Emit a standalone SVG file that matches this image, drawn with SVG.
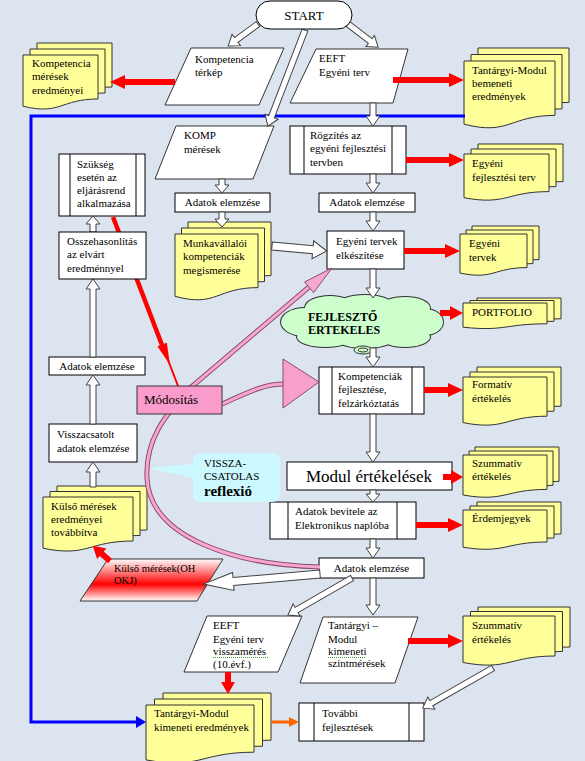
<svg xmlns="http://www.w3.org/2000/svg" xmlns:xlink="http://www.w3.org/1999/xlink" width="585" height="761" viewBox="0 0 585 761">
<style>
.t{font-family:"Liberation Serif","Times New Roman",serif;font-size:11px;fill:#000}
.box{fill:#fff;stroke:#000;stroke-width:1}
.doc{fill:#FFFF99;stroke:#333;stroke-width:1}
.para{fill:#fff;stroke:#333;stroke-width:1}
.ha{fill:#fff;stroke:#404040;stroke-width:1}
.ra{fill:#f00}
.pk-o{fill:none;stroke:#8C4A6E;stroke-width:5}
.pk-i{fill:none;stroke:#F7A8D0;stroke-width:3}
.sq{fill:none;stroke:#3a3;stroke-width:1;stroke-dasharray:1,1}
</style>
<defs>
<linearGradient id="gr" x1="0" y1="0" x2="0" y2="1">
<stop offset="0" stop-color="#fff"/>
<stop offset="0.6" stop-color="#f00"/>
<stop offset="1" stop-color="#fff"/>
</linearGradient>
<path id="d1" d="M0,0H75V44C37.5,44 37.5,60.5 0,51.2Z"/>
<path id="d2" d="M0,0H91V54.4C45.5,54.4 45.5,74.8 0,63.2Z"/>
<path id="d3" d="M0,0H85V37.6C42.5,37.6 42.5,51.7 0,43.7Z"/>
<path id="d4" d="M0,0H83V53.6C41.5,53.6 41.5,73.7 0,62.3Z"/>
<path id="d5" d="M0,0H67V33.6C33.5,33.6 33.5,46.2 0,39Z"/>
<path id="d6" d="M0,0H84V20.8C42,20.8 42,28.6 0,24.2Z"/>
<path id="d7" d="M0,0H84V39.2C42,39.2 42,53.9 0,45.6Z"/>
<path id="d8" d="M0,0H84V34.4C42,34.4 42,47.3 0,40Z"/>
<path id="d9" d="M0,0H84V32C42,32 42,44 0,37.2Z"/>
<path id="d10" d="M0,0H90V44C45,44 45,60.5 0,51.2Z"/>
<path id="d11" d="M0,0H92V40C46,40 46,55 0,46.5Z"/>
<path id="d12" d="M0,0H108V47.2C54,47.2 54,64.9 0,54.9Z"/>
</defs>
<rect x="0" y="0" width="585" height="761" fill="#DCE4F0"/>

<g id="nodes-a">
<g id="cloud">
<g fill="none" stroke="#333" stroke-width="2">
<ellipse cx="305" cy="322" rx="24" ry="14"/>
<ellipse cx="330" cy="308" rx="25" ry="12"/>
<ellipse cx="365" cy="305" rx="28" ry="10"/>
<ellipse cx="405" cy="308" rx="25" ry="11"/>
<ellipse cx="425" cy="322" rx="18" ry="13"/>
<ellipse cx="405" cy="337" rx="25" ry="10"/>
<ellipse cx="365" cy="338" rx="30" ry="10"/>
<ellipse cx="325" cy="337" rx="28" ry="10"/>
</g>
<g fill="#CCFFCC">
<ellipse cx="305" cy="322" rx="24" ry="14"/>
<ellipse cx="330" cy="308" rx="25" ry="12"/>
<ellipse cx="365" cy="305" rx="28" ry="10"/>
<ellipse cx="405" cy="308" rx="25" ry="11"/>
<ellipse cx="425" cy="322" rx="18" ry="13"/>
<ellipse cx="405" cy="337" rx="25" ry="10"/>
<ellipse cx="365" cy="338" rx="30" ry="10"/>
<ellipse cx="325" cy="337" rx="28" ry="10"/>
<ellipse cx="362" cy="322" rx="72" ry="18"/>
</g>
<ellipse cx="363" cy="350" rx="9" ry="4" fill="#CCFFCC" stroke="#333"/>
<ellipse cx="363" cy="350" rx="5" ry="2" fill="none" stroke="#333"/>
<text class="t" x="308" y="321" style="font-size:12px;font-weight:bold">FEJLESZTŐ</text>
<text class="t" x="308" y="334" style="font-size:12px;font-weight:bold">ERTEKELES</text>
</g>

<g id="doc-komp-eredmenyei" class="doc" transform="translate(23,55)">
<use href="#d1" x="14" y="-12"/><use href="#d1" x="7" y="-6"/><use href="#d1"/>
</g>
<text class="t" x="32" y="67">Kompetencia</text>
<text class="t" x="32" y="80">mérések</text>
<text class="t" x="32" y="93.5">eredményei</text>

<g id="doc-bemeneti" class="doc" transform="translate(464,61)">
<use href="#d2" x="14" y="-13"/><use href="#d2" x="7" y="-6.5"/><use href="#d2"/>
</g>
<text class="t" x="472" y="74">Tantárgyi-Modul</text>
<text class="t" x="472" y="87">bemeneti</text>
<text class="t" x="472" y="100">eredmények</text>

<g id="doc-egyeni-fejl" class="doc" transform="translate(464,154)">
<use href="#d3" x="14" y="-10"/><use href="#d3" x="7" y="-5"/><use href="#d3"/>
</g>
<text class="t" x="472" y="167">Egyéni</text>
<text class="t" x="472" y="181">fejlesztési terv</text>

<g id="doc-munkavallaloi" class="doc" transform="translate(175,234)">
<use href="#d4" x="13" y="-12"/><use href="#d4" x="6.5" y="-6"/><use href="#d4"/>
</g>
<text class="t" x="183" y="247">Munkavállalói</text>
<text class="t" x="183" y="260">kompetenciák</text>
<text class="t" x="183" y="273.5">megismerése</text>

<g id="doc-egyeni-tervek" class="doc" transform="translate(460,234)">
<use href="#d5" x="12" y="-8"/><use href="#d5" x="6" y="-4"/><use href="#d5"/>
</g>
<text class="t" x="469" y="247">Egyéni</text>
<text class="t" x="469" y="261">tervek</text>

<g id="doc-portfolio" class="doc" transform="translate(463,303)">
<use href="#d6" x="14" y="-5"/><use href="#d6" x="7" y="-2.5"/><use href="#d6"/>
</g>
<text class="t" x="472" y="316">PORTFOLIO</text>

<g id="doc-formativ" class="doc" transform="translate(463,377)">
<use href="#d7" x="14" y="-10"/><use href="#d7" x="7" y="-5"/><use href="#d7"/>
</g>
<text class="t" x="472" y="388">Formatív</text>
<text class="t" x="472" y="402">értékelés</text>

<g id="doc-szummativ-1" class="doc" transform="translate(463,455)">
<use href="#d8" x="12" y="-8"/><use href="#d8" x="6" y="-4"/><use href="#d8"/>
</g>
<text class="t" x="472" y="467">Szummatív</text>
<text class="t" x="472" y="480">értékelés</text>

<g id="doc-erdemjegyek" class="doc" transform="translate(463,510)">
<use href="#d9" x="14" y="-8"/><use href="#d9" x="7" y="-4"/><use href="#d9"/>
</g>
<text class="t" x="472" y="522">Érdemjegyek</text>

<g id="doc-kulso-eredmenyei" class="doc" transform="translate(43,497)">
<use href="#d10" x="14" y="-11"/><use href="#d10" x="7" y="-5.5"/><use href="#d10"/>
</g>
<text class="t" x="51" y="510">Külső mérések</text>
<text class="t" x="51" y="523">eredményei</text>
<text class="t" x="51" y="536">továbbítva</text>

<g id="doc-szummativ-2" class="doc" transform="translate(463,616)">
<use href="#d11" x="15" y="-9"/><use href="#d11" x="7.5" y="-4.5"/><use href="#d11"/>
</g>
<text class="t" x="472" y="629">Szummatív</text>
<text class="t" x="472" y="643">értékelés</text>

<g id="doc-kimeneti-eredmenyek" class="doc" transform="translate(146,705)">
<use href="#d12" x="17" y="-12"/><use href="#d12" x="8.5" y="-6"/><use href="#d12"/>
</g>
<text class="t" x="154" y="717">Tantárgyi-Modul</text>
<text class="t" x="154" y="731">kimeneti eredmények</text>

<g id="para-komp-terkep">
<polygon class="para" points="191,48 284,48 259,105 165,105"/>
<text class="t" x="195" y="62.5">Kompetencia</text>
<text class="t" x="195" y="76">térkép</text>
</g>
<g id="para-eeft">
<polygon class="para" points="316,49 408,49 393,103 290,103"/>
<text class="t" x="319" y="62">EEFT</text>
<text class="t" x="319" y="75.5">Egyéni terv</text>
</g>
<g id="para-komp-meresek">
<polygon class="para" points="176,126 274,126 253,179 155,179"/>
<text class="t" x="184" y="139">KOMP</text>
<text class="t" x="184" y="153">mérések</text>
</g>
<g id="box-rogzites">
<rect class="box" x="290" y="126" width="116" height="48"/>
<line x1="304" y1="126" x2="304" y2="174" stroke="#000"/>
<line x1="392" y1="126" x2="392" y2="174" stroke="#000"/>
<text class="t" x="310" y="139">Rögzítés az</text>
<text class="t" x="310" y="152">egyéni fejlesztési</text>
<text class="t" x="310" y="165.5">tervben</text>
</g>
<g id="box-szukseg">
<rect class="box" x="59" y="154" width="86" height="62"/>
<line x1="70" y1="154" x2="70" y2="216" stroke="#000"/>
<line x1="136" y1="154" x2="136" y2="216" stroke="#000"/>
<text class="t" x="77" y="168">Szükség</text>
<text class="t" x="77" y="181">esetén az</text>
<text class="t" x="77" y="194">eljárásrend</text>
<text class="t" x="77" y="207">alkalmazása</text>
</g>
<g id="box-adatok-1">
<rect class="box" x="175" y="193" width="95" height="19"/>
<text class="t" x="222.5" y="206" text-anchor="middle">Adatok elemzése</text>
</g>
<g id="box-adatok-2">
<rect class="box" x="319" y="193" width="96" height="19"/>
<text class="t" x="367" y="206" text-anchor="middle">Adatok elemzése</text>
</g>
<g id="box-egyeni-tervek">
<rect class="box" x="327" y="231" width="77" height="38"/>
<text class="t" x="336" y="245">Egyéni tervek</text>
<text class="t" x="336" y="258.5">elkészítése</text>
</g>
<g id="box-kompetenciak">
<rect class="box" x="319" y="367" width="105" height="47"/>
<line x1="332" y1="367" x2="332" y2="414" stroke="#000"/>
<line x1="412" y1="367" x2="412" y2="414" stroke="#000"/>
<text class="t" x="338" y="379.5">Kompetenciák</text>
<text class="t" x="338" y="393">fejlesztése,</text>
<text class="t" x="338" y="407">felzárkóztatás</text>
</g>
<g id="box-modul">
<rect class="box" x="287" y="462" width="165" height="28"/>
<text class="t" x="369" y="482" text-anchor="middle" style="font-size:17px">Modul értékelések</text>
</g>
<g id="box-adatok-bevitele">
<rect class="box" x="270" y="502" width="146" height="37"/>
<line x1="288" y1="502" x2="288" y2="539" stroke="#000"/>
<line x1="397" y1="502" x2="397" y2="539" stroke="#000"/>
<text class="t" x="295" y="515">Adatok bevitele az</text>
<text class="t" x="295" y="528.5">Elektronikus naplóba</text>
</g>
<g id="box-adatok-3">
<rect class="box" x="319" y="558" width="105" height="20"/>
<text class="t" x="371.5" y="572" text-anchor="middle">Adatok elemzése</text>
</g>
<g id="box-adatok-left">
<rect class="box" x="49" y="357" width="96" height="18"/>
<text class="t" x="97" y="369.5" text-anchor="middle">Adatok elemzése</text>
</g>
<g id="box-visszacsatolt">
<rect class="box" x="49" y="424" width="88" height="38"/>
<text class="t" x="57" y="437.5">Visszacsatolt</text>
<text class="t" x="57" y="451.5">adatok elemzése</text>
</g>
<g id="callout-visszacsatolas">
<path d="M201,453H272Q280,453 280,461V494Q280,502 272,502H201Q193,502 193,494V478L147,468L193,464V461Q193,453 201,453Z" fill="#CCF8FF"/>
<text class="t" x="204" y="467">VISSZA-</text>
<text class="t" x="204" y="480">CSATOLAS</text>
<text class="t" x="204" y="495.5" style="font-size:15px;font-weight:bold">reflexió</text>
</g>
<g id="para-kulso-meresek">
<polygon points="108,559 223,559 197,601 80,601" fill="url(#gr)" stroke="#333"/>
<text class="t" x="114" y="572" style="font-size:10.5px">Külső mérések(OH</text>
<text class="t" x="114" y="584" style="font-size:10.5px">OKJ)</text>
</g>
<g id="para-eeft-visszameres">
<polygon class="para" points="207,616 302,616 278,672 184,672"/>
<text class="t" x="213" y="629">EEFT</text>
<text class="t" x="213" y="642.5">Egyéni terv</text>
<text class="t" x="213" y="655">visszamérés</text>
<path class="sq" d="M213,657.5H268"/>
<text class="t" x="213" y="667.5">(10.évf.)</text>
</g>
<g id="para-tantargyi-szint">
<polygon class="para" points="323,617 418,617 395,683 300,683"/>
<text class="t" x="328" y="629">Tantárgyi –</text>
<text class="t" x="328" y="643">Modul</text>
<text class="t" x="328" y="655">kimeneti</text>
<path class="sq" d="M328,657.5H366"/>
<text class="t" x="328" y="667">szintmérések</text>
</g>
<g id="box-tovabbi">
<rect class="box" x="299" y="703" width="125" height="38"/>
<line x1="314" y1="703" x2="314" y2="741" stroke="#000"/>
<line x1="409" y1="703" x2="409" y2="741" stroke="#000"/>
<text class="t" x="322" y="717">További</text>
<text class="t" x="322" y="730.5">fejlesztések</text>
</g>
</g>

<g id="connectors">
<path d="M465,116H31V722H137" fill="none" stroke="#0000FF" stroke-width="3"/>
<polygon points="136,716 146,722 136,728" fill="#0000FF"/>
<line x1="272" y1="722" x2="290" y2="722" stroke="#FF6600" stroke-width="3"/>
<polygon points="289,717 299,722 289,727" fill="#FF6600"/>

<path class="ha" transform="translate(258,24) rotate(143.7)" d="M0,-3H27V-7L37,0L27,7V3H0Z"/>
<path class="ha" transform="translate(348,24) rotate(37.5)" d="M0,-3H28V-7L38,0L28,7V3H0Z"/>
<path class="ha" transform="translate(305,30) rotate(111.1)" d="M0,-3H93V-7L103,0L93,7V3H0Z"/>
<path class="ha" transform="translate(373,103) rotate(90)" d="M0,-3H13V-7L23,0L13,7V3H0Z"/>
<path class="ha" transform="translate(222,179) rotate(90)" d="M0,-3H6V-7L14,0L6,7V3H0Z"/>
<path class="ha" transform="translate(373,174) rotate(90)" d="M0,-3H9V-7L19,0L9,7V3H0Z"/>
<path class="ha" transform="translate(222,212) rotate(90)" d="M0,-3H7V-7L15,0L7,7V3H0Z"/>
<path class="ha" transform="translate(373,212) rotate(90)" d="M0,-3H9V-7L19,0L9,7V3H0Z"/>
<path class="ha" transform="translate(272,246) rotate(5.2)" d="M0,-4H41V-9L55,0L41,9V4H0Z"/>
<path class="ha" transform="translate(373,269) rotate(90)" d="M0,-3H19V-7L29,0L19,7V3H0Z"/>
<path class="ha" transform="translate(373,348) rotate(90)" d="M0,-3H9V-7L19,0L9,7V3H0Z"/>
<path class="ha" transform="translate(373,414) rotate(90)" d="M0,-3H38V-7L48,0L38,7V3H0Z"/>
<path class="ha" transform="translate(373,490) rotate(90)" d="M0,-3H4V-7L12,0L4,7V3H0Z"/>
<path class="ha" transform="translate(373,539) rotate(90)" d="M0,-3H9V-7L19,0L9,7V3H0Z"/>
<path class="ha" transform="translate(320,574) rotate(175.1)" d="M0,-4H87V-9L117,0L87,9V4H0Z"/>
<path class="ha" transform="translate(352,578) rotate(150)" d="M0,-3H64V-7L74,0L64,7V3H0Z"/>
<path class="ha" transform="translate(373,578) rotate(90)" d="M0,-3H27V-7L37,0L27,7V3H0Z"/>
<path class="ha" transform="translate(493,668) rotate(150.3)" d="M0,-3H71V-7L81,0L71,7V3H0Z"/>
<path class="ha" transform="translate(93,487) rotate(-90)" d="M0,-3H15V-7L25,0L15,7V3H0Z"/>
<path class="ha" transform="translate(93,424) rotate(-90)" d="M0,-3H39V-7L49,0L39,7V3H0Z"/>
<path class="ha" transform="translate(93,357) rotate(-90)" d="M0,-3H68V-7L78,0L68,7V3H0Z"/>
<path class="ha" transform="translate(93,232) rotate(-90)" d="M0,-3H8V-7L16,0L8,7V3H0Z"/>

<path class="ra" transform="translate(175,82) rotate(180)" d="M0,-3H50V-7L65,0L50,7V3H0Z"/>
<path class="ra" transform="translate(393,80)" d="M0,-3H56V-7L71,0L56,7V3H0Z"/>
<path class="ra" transform="translate(406,160)" d="M0,-3H43V-7L58,0L43,7V3H0Z"/>
<path class="ra" transform="translate(404,251)" d="M0,-3H41V-7L56,0L41,7V3H0Z"/>
<path class="ra" transform="translate(440,313)" d="M0,-3H10V-7L23,0L10,7V3H0Z"/>
<path class="ra" transform="translate(424,390)" d="M0,-3H24V-7L39,0L24,7V3H0Z"/>
<path class="ra" transform="translate(416,525)" d="M0,-3H32V-7L47,0L32,7V3H0Z"/>
<path class="ra" transform="translate(408,641)" d="M0,-3H40V-7L55,0L40,7V3H0Z"/>
<path class="ra" transform="translate(228,672) rotate(90)" d="M0,-3H10V-7L22,0L10,7V3H0Z"/>
<path class="ra" transform="translate(110,561) rotate(221.4)" d="M0,-3H11V-7L23,0L11,7V3H0Z"/>

<line x1="113" y1="217" x2="162" y2="345" stroke="#f00" stroke-width="4.5"/>
<polygon points="170,365 166.8,342.7 157.4,346.3" fill="#f00"/>
<line x1="168" y1="360" x2="178" y2="386" stroke="#f00" stroke-width="2"/>

<path class="pk-o" d="M320,567C240,565 150,540 147,478C145,440 165,415 190,388L309,287"/>
<path class="pk-i" d="M320,567C240,565 150,540 147,478C145,440 165,415 190,388L309,287"/>
<polygon points="332,268 313.6,292.7 304.6,282" fill="#F7A8D0" stroke="#8C4A6E"/>
<path class="pk-o" d="M222,404C245,394 262,384 284,384"/>
<path class="pk-i" d="M222,404C245,394 262,384 284,384"/>
<polygon points="283,359 283,408 319,382" fill="#F7A0CC" stroke="#8C4A6E"/>
</g>

<g id="nodes-b">
<g id="start">
<rect x="256" y="1" width="96" height="28" rx="14" ry="14" class="box"/>
<text class="t" x="304" y="19.5" text-anchor="middle" style="font-size:13px">START</text>
</g>
<g id="box-osszehasonlitas">
<rect class="box" x="59" y="232" width="87" height="47"/>
<text class="t" x="67" y="245">Osszehasonlítás</text>
<text class="t" x="67" y="258">az elvárt</text>
<text class="t" x="67" y="271.5">eredménnyel</text>
</g>
<g id="box-modositas">
<rect x="137" y="386" width="85" height="28" fill="#F99BCB" stroke="#333"/>
<text class="t" x="144" y="404" style="font-size:13px">Módosítás</text>
</g>
<path class="ra" transform="translate(443,477)" d="M0,-3H8V-7L20,0L8,7V3H0Z"/>
</g>
</svg>
